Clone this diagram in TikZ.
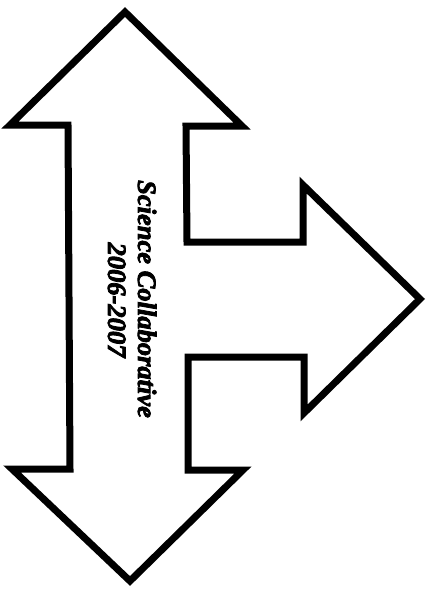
\documentclass[tikz,border=0pt]{standalone}
\usepackage{fontspec}
\newfontfamily\lbi{Liberation Serif}[UprightFont={* Bold Italic},FakeBold=3]
\begin{document}
\begin{tikzpicture}[x=1pt,y=-1pt,
  outline/.style={draw=black,line width=7pt,line join=miter,miter limit=20,fill=white},
  label/.style={rotate=-90,anchor=base,inner sep=0pt,font=\lbi\fontsize{26.5}{30}\selectfont}]
\useasboundingbox (0,0) rectangle (433,589);
\draw[outline] (125,12) -- (242,126) -- (186,126) -- (187,242) -- (303,242) -- (303,185)
  -- (420,299) -- (304,413) -- (304,357) -- (188,357) -- (188,470) -- (243,470)
  -- (130,581) -- (12,469) -- (70,469) -- (68,125) -- (10,125) -- cycle;
\node[label] (l1) at (138,299) {Science Collaborative};
\node[label] (l2) at (108,300) {2006-2007};
\end{tikzpicture}
\end{document}
